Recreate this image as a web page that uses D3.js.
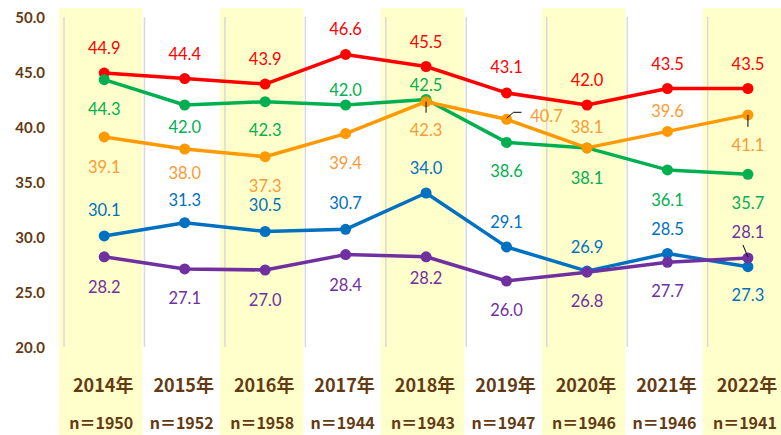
<!DOCTYPE html>
<html>
<head>
<meta charset="utf-8">
<script src="https://cdn.jsdelivr.net/npm/d3@7"></script>
<style>
  body { margin: 0; background: #fff; }
  svg { display: block; }
</style>
</head>
<body>
<div id="chart"></div>
<script>
// categories
const years = ["2014年", "2015年", "2016年", "2017年", "2018年", "2019年", "2020年", "2021年", "2022年"]
const sampleSizes = ["n＝1950", "n＝1952", "n＝1958", "n＝1944", "n＝1943", "n＝1947", "n＝1946", "n＝1946", "n＝1941"]
const shaded = ["2014年", "2016年", "2018年", "2020年", "2022年"]

// series values
const redValues = [44.9, 44.4, 43.9, 46.6, 45.5, 43.1, 42.0, 43.5, 43.5]
const greenValues = [44.3, 42.0, 42.3, 42.0, 42.5, 38.6, 38.1, 36.1, 35.7]
const orangeValues = [39.1, 38.0, 37.3, 39.4, 42.3, 40.7, 38.1, 39.6, 41.1]
const blueValues = [30.1, 31.3, 30.5, 30.7, 34.0, 29.1, 26.9, 28.5, 27.3]
const purpleValues = [28.2, 27.1, 27.0, 28.4, 28.2, 26.0, 26.8, 27.7, 28.1]

// y tick labels
const yTicks = [20, 25, 30, 35, 40, 45, 50]

// label placement (vertical offset of each value label from its point)
const redLabelDy = [-25, -25, -25, -25, -25, -26, -25, -25, -25]
const greenLabelDy = [29, 22, 28, -15, -15, 29, 30, 30, 29]
const orangeLabelDy = [30, 24, 29, 29, 28, -3, -21, -20, 30]
const blueLabelDy = [-26, -23, -27, -26, -25, -25, -24, -25, 28]
const purpleLabelDy = [30, 29, 30, 30, 21, 29, 29, 29, -26]

const series = [
    { values: redValues, dy: redLabelDy, line: "#ff0000", text: "#ff0000" },
    { values: greenValues, dy: greenLabelDy, line: "#00b050", text: "#00b050" },
    { values: orangeValues, dy: orangeLabelDy, line: "#ff9900", text: "#ff9933" },
    { values: blueValues, dy: blueLabelDy, line: "#0070c0", text: "#0070c0" },
    { values: purpleValues, dy: purpleLabelDy, line: "#7030a0", text: "#7030a0" }
]

// leader lines (series index, point index, relative path from the point)
const leaders = [
    { s: 2, i: 4, pts: [[0, 0], [0, 11]] },
    { s: 2, i: 5, pts: [[0, -1], [7, -7], [15, -7]] },
    { s: 2, i: 8, pts: [[0, 0], [0, 12]] },
    { s: 4, i: 8, pts: [[0, -1], [-5, -13]] }
]
const labelDx = { "2-5": 40 }

const width = 781
const height = 435
const margin = { top: 17, bottom: 88, left: 64 }
const brown = "#643a12"

const svg = d3.select("#chart")
    .append("svg")
    .attr("width", width)
    .attr("height", height)

const x = d3.scaleBand()
    .domain(years)
    .range([margin.left, margin.left + 9 * 80.46])
    .padding(0)

const y = d3.scaleLinear()
    .domain([20, 50])
    .range([height - margin.bottom, margin.top])

// shaded columns
svg.append("g")
    .selectAll("rect")
    .data(shaded)
    .join("rect")
    .attr("x", d => x(d) - 5)
    .attr("y", 8)
    .attr("width", x.bandwidth() + 3)
    .attr("height", height - 8)
    .attr("fill", "#ffffcc")

// vertical gridlines
svg.append("g")
    .selectAll("line")
    .data(years)
    .join("line")
    .attr("x1", d => x(d))
    .attr("x2", d => x(d))
    .attr("y1", y(50))
    .attr("y2", y(20))
    .attr("stroke", "#d9d9d9")
    .attr("stroke-width", 1.5)

// y axis labels
svg.append("g")
    .selectAll("text")
    .data(yTicks)
    .join("text")
    .attr("x", 45)
    .attr("y", d => y(d))
    .attr("text-anchor", "end")
    .attr("dominant-baseline", "central")
    .attr("font-family", "Lato, 'Noto Sans', sans-serif")
    .attr("font-weight", "bold")
    .attr("font-size", 15)
    .attr("fill", brown)
    .text(d => d.toFixed(1))

// category labels
const cx = d => x(d) + x.bandwidth() / 2
svg.append("g")
    .selectAll("text")
    .data(years)
    .join("text")
    .attr("x", d => cx(d) - 1)
    .attr("y", 384)
    .attr("text-anchor", "middle")
    .attr("dominant-baseline", "central")
    .attr("font-family", "'Noto Sans CJK JP', sans-serif")
    .attr("font-weight", "bold")
    .attr("font-size", 18)
    .attr("fill", brown)
    .text(d => d)

svg.append("g")
    .selectAll("text")
    .data(sampleSizes)
    .join("text")
    .attr("x", (d, i) => cx(years[i]) - 3)
    .attr("y", 422)
    .attr("text-anchor", "middle")
    .attr("dominant-baseline", "central")
    .attr("font-family", "'Noto Sans CJK JP', sans-serif")
    .attr("font-weight", "bold")
    .attr("font-size", 16)
    .attr("fill", brown)
    .text(d => d)

// lines and points
const line = d3.line()
    .x((d, i) => cx(years[i]))
    .y(d => y(d))

series.forEach(s => {
    svg.append("path")
        .datum(s.values)
        .attr("d", line)
        .attr("fill", "none")
        .attr("stroke", s.line)
        .attr("stroke-width", 3.5)
        .attr("stroke-linejoin", "round")

    svg.append("g")
        .selectAll("circle")
        .data(s.values)
        .join("circle")
        .attr("cx", (d, i) => cx(years[i]))
        .attr("cy", d => y(d))
        .attr("r", 5.5)
        .attr("fill", s.line)
})

// leader lines
leaders.forEach(l => {
    const v = series[l.s].values[l.i]
    const px = cx(years[l.i])
    const py = y(v)
    svg.append("path")
        .attr("d", d3.line()(l.pts.map(p => [px + p[0], py + p[1]])))
        .attr("fill", "none")
        .attr("stroke", "#000")
        .attr("stroke-width", 1)
})

// value labels
series.forEach((s, si) => {
    svg.append("g")
        .selectAll("text")
        .data(s.values)
        .join("text")
        .attr("x", (d, i) => cx(years[i]) + (labelDx[si + "-" + i] || 0))
        .attr("y", (d, i) => y(d) + s.dy[i])
        .attr("text-anchor", "middle")
        .attr("dominant-baseline", "central")
        .attr("font-family", "Lato, 'Noto Sans', sans-serif")
        .attr("font-size", 16.5)
        .attr("fill", s.text)
        .text(d => d.toFixed(1))
})
</script>
</body>
</html>
